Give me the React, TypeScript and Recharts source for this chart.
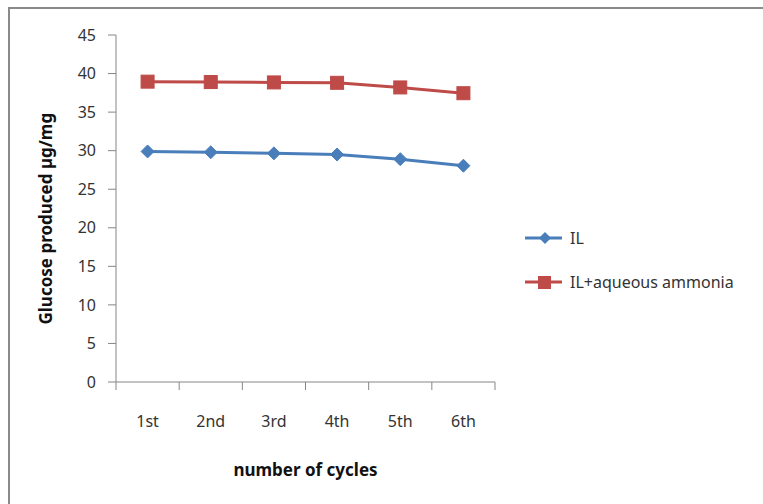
import { LineChart, Line, XAxis, YAxis } from 'recharts'

const cycles = ['1st', '2nd', '3rd', '4th', '5th', '6th']
const ilValues = [29.9, 29.8, 29.65, 29.5, 28.9, 28.05]
const ilAmmoniaValues = [38.95, 38.9, 38.85, 38.8, 38.2, 37.45]
const yTicks = [0, 5, 10, 15, 20, 25, 30, 35, 40, 45]

const data = cycles.map((c, i) => ({ cycle: c, il: ilValues[i], ilAmmonia: ilAmmoniaValues[i] }))

const FONT = '"Noto Sans", "Open Sans", sans-serif'
const AXIS = '#868686'
const BLUE = '#4a7ebb'
const RED = '#be4b48'
const PLOT_W = 379
const HALF_BAND = PLOT_W / cycles.length / 2

const Diamond = ({ cx, cy }: any) => {
  if (cx == null || cy == null) return null
  const r = 6.5
  return <path d={`M${cx},${cy - r}L${cx + r},${cy}L${cx},${cy + r}L${cx - r},${cy}Z`} fill={BLUE} stroke={BLUE} />
}

const Square = ({ cx, cy }: any) => {
  if (cx == null || cy == null) return null
  const s = 6.5
  return <rect x={cx - s} y={cy - s} width={s * 2} height={s * 2} fill={RED} stroke={RED} />
}

// tick y arrives offset by the default tickSize + margin (8px) below the axis line
const XTick = ({ x, y, payload, index }: any) => {
  const axisY = y - 8
  return (
    <g>
      <line x1={x - HALF_BAND} x2={x - HALF_BAND} y1={axisY} y2={axisY + 8} stroke={AXIS} />
      {index === cycles.length - 1 && (
        <line x1={x + HALF_BAND} x2={x + HALF_BAND} y1={axisY} y2={axisY + 8} stroke={AXIS} />
      )}
      <text x={x} y={axisY + 45} textAnchor="middle" fontSize={16} fill="#333" fontFamily={FONT}>
        {payload.value}
      </text>
    </g>
  )
}

const LegendBox = () => (
  <div style={{ fontFamily: FONT, fontSize: 16, color: '#333' }}>
    {[
      { name: 'IL', color: BLUE, marker: 'diamond' },
      { name: 'IL+aqueous ammonia', color: RED, marker: 'square' },
    ].map((item) => (
      <div key={item.name} style={{ display: 'flex', alignItems: 'center', height: 44 }}>
        <svg width={44} height={16}>
          <line x1={1} x2={38} y1={8} y2={8} stroke={item.color} strokeWidth={3} />
          {item.marker === 'diamond' ? (
            <path d="M21,2L27,8L21,14L15,8Z" fill={item.color} />
          ) : (
            <rect x={14} y={2} width={13} height={13} fill={item.color} />
          )}
        </svg>
        <span style={{ marginLeft: 2 }}>{item.name}</span>
      </div>
    ))}
  </div>
)

export default function App() {
  return (
    <div style={{ position: 'absolute', left: 0, top: 0, width: 763, height: 504, background: '#fff', overflow: 'hidden' }}>
      <div
        style={{
          position: 'absolute',
          left: 8,
          top: 7,
          width: 800,
          height: 520,
          borderLeft: '2px solid #8a8a8a',
          borderTop: '2px solid #8a8a8a',
        }}
      />
      <LineChart
        width={763}
        height={504}
        data={data}
        margin={{ top: 35, right: 268, bottom: 0, left: 0 }}
        style={{ position: 'absolute', left: 0, top: 0 }}
      >
        <XAxis
          dataKey="cycle"
          scale="band"
          height={122}
          axisLine={{ stroke: AXIS }}
          tickLine={false}
          tick={<XTick />}
          interval={0}
          label={{
            value: 'number of cycles',
            position: 'insideBottom',
            offset: 28,
            fontSize: 17,
            fontWeight: 'bold',
            fill: '#111',
            fontFamily: FONT,
          }}
        />
        <YAxis
          width={116}
          domain={[0, 45]}
          ticks={yTicks}
          interval={0}
          tickSize={8}
          tickMargin={12}
          axisLine={{ stroke: AXIS }}
          tickLine={{ stroke: AXIS }}
          tick={{ fontSize: 16, fill: '#333', fontFamily: FONT }}
          label={{
            value: 'Glucose produced µg/mg',
            angle: -90,
            position: 'insideLeft',
            offset: 46,
            dy: 116,
            fontSize: 17,
            fontWeight: 'bold',
            fill: '#111',
            fontFamily: FONT,
          }}
        />
        <Line
          dataKey="il"
          name="IL"
          stroke={BLUE}
          strokeWidth={3}
          dot={<Diamond />}
          activeDot={false}
          isAnimationActive={false}
        />
        <Line
          dataKey="ilAmmonia"
          name="IL+aqueous ammonia"
          stroke={RED}
          strokeWidth={3}
          dot={<Square />}
          activeDot={false}
          isAnimationActive={false}
        />
      </LineChart>
      <div style={{ position: 'absolute', left: 524, top: 216 }}>
        <LegendBox />
      </div>
    </div>
  )
}
